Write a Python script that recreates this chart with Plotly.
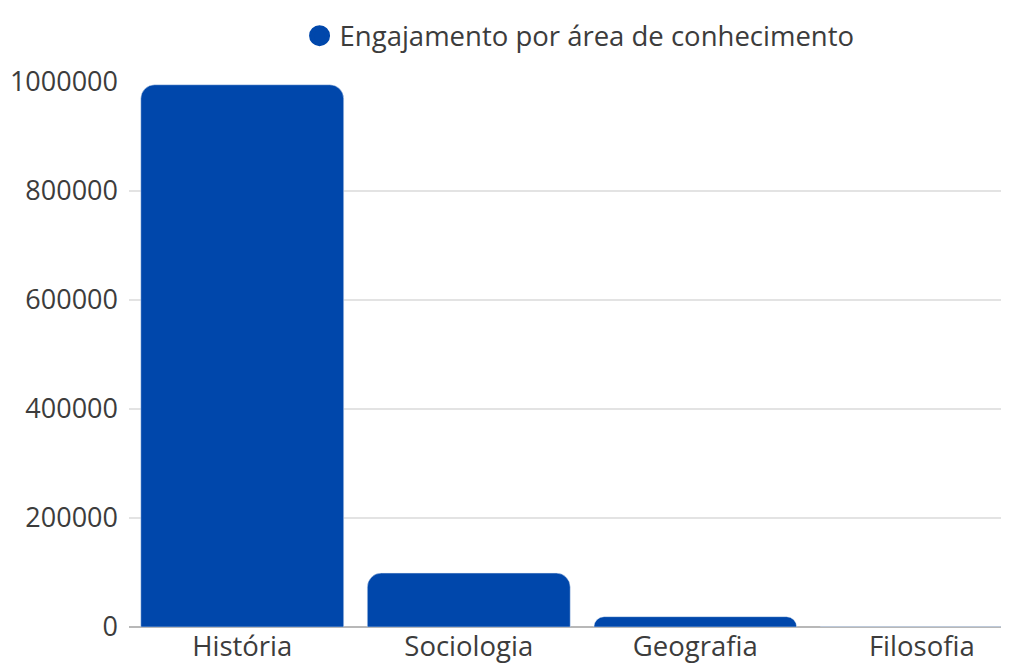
import plotly.graph_objects as go

categories = ["História", "Sociologia", "Geografia", "Filosofia"]
values = [995000, 99000, 19000, 600]
series_name = "Engajamento por área de conhecimento"
y_ticks = [0, 200000, 400000, 600000, 800000, 1000000]

blue = "#0047AB"
text_color = "#3c3c3c"

fig = go.Figure()
fig.add_trace(go.Bar(
    x=categories, y=values, marker=dict(color=blue, cornerradius=14),
    showlegend=False, name=series_name,
))
fig.add_trace(go.Scatter(
    x=[None], y=[None], mode="markers", name=series_name,
    marker=dict(color=blue, size=26, symbol="circle", line=dict(color=blue, width=6)),
    showlegend=True,
))

fig.update_layout(
    width=1001, height=658,
    margin=dict(l=121, r=0, t=74, b=39),
    paper_bgcolor="white", plot_bgcolor="white",
    font=dict(family="Open Sans", size=27, color=text_color),
    bargap=0.104,
    legend=dict(orientation="h", x=0.512, xanchor="center", y=0.995, yanchor="top",
                yref="container", font=dict(size=27.5, color=text_color), itemsizing="trace"),
    xaxis=dict(range=[-0.5, 3.385], showgrid=False, ticks="", tickfont=dict(size=27.5)),
    yaxis=dict(range=[0, 1000000], tickvals=y_ticks, ticktext=[str(v) for v in y_ticks],
               showgrid=True, gridcolor="#e3e3e3", gridwidth=1.5,
               zeroline=True, zerolinecolor="#b8b8b8", zerolinewidth=2,
               ticks="", ticklabelstandoff=10, tickfont=dict(size=27)),
)
fig.write_html("out.html")
